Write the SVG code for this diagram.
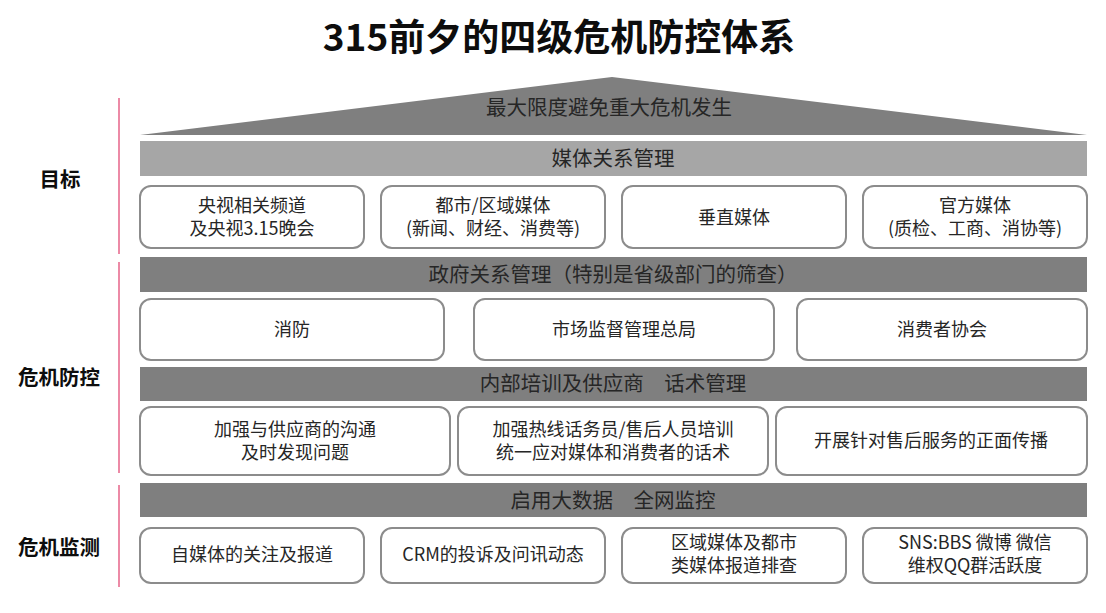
<svg xmlns="http://www.w3.org/2000/svg" width="1106" height="613" viewBox="0 0 1106 613">
<style>
text{font-family:"Microsoft YaHei","Noto Sans CJK SC","Noto Sans",sans-serif;text-anchor:middle;fill:#262626}
.title{font-size:37px;font-weight:bold;fill:#0d0d0d}
.side{font-size:20.5px;font-weight:bold;fill:#0d0d0d}
.bar{font-size:20.5px}
.bt{font-size:18px}
.box{fill:#fff;stroke:#8c8c8c;stroke-width:2}
.dark{fill:#7f7f7f}
.light{fill:#a6a6a6}
.pink{stroke:#ec8aa6;stroke-width:2}
</style>
<rect width="1106" height="613" fill="#fff"/>
<text class="title" x="559" y="51">315前夕的四级危机防控体系</text>

<g id="labels">
<line class="pink" x1="119" y1="98" x2="119" y2="254"/>
<line class="pink" x1="119" y1="262" x2="119" y2="473"/>
<line class="pink" x1="119" y1="485" x2="119" y2="587"/>
<text class="side" x="60" y="187">目标</text>
<text class="side" x="59" y="385">危机防控</text>
<text class="side" x="59" y="555">危机监测</text>
</g>

<g id="goal">
<polygon class="dark" points="140,135 612,77 1087,135"/>
<text class="bar" x="609" y="115">最大限度避免重大危机发生</text>
</g>

<g id="bar-media">
<rect class="light" x="140" y="141" width="947" height="35"/>
<text class="bar" x="613" y="166">媒体关系管理</text>
</g>
<g id="m1"><rect class="box" x="140" y="186" width="224" height="62" rx="11"/>
<text class="bt" x="252" y="211.5">央视相关频道</text><text class="bt" x="252" y="235">及央视3.15晚会</text></g>
<g id="m2"><rect class="box" x="381" y="186" width="224" height="62" rx="11"/>
<text class="bt" x="493" y="211.5">都市/区域媒体</text><text class="bt" x="493" y="235">(新闻、财经、消费等)</text></g>
<g id="m3"><rect class="box" x="622" y="186" width="224" height="62" rx="11"/>
<text class="bt" x="734" y="224">垂直媒体</text></g>
<g id="m4"><rect class="box" x="863" y="186" width="224" height="62" rx="11"/>
<text class="bt" x="975" y="211.5">官方媒体</text><text class="bt" x="975" y="235">(质检、工商、消协等)</text></g>

<g id="bar-gov">
<rect class="dark" x="140" y="257" width="947" height="35"/>
<text class="bar" x="613" y="282">政府关系管理（特别是省级部门的筛查）</text>
</g>
<g id="g1"><rect class="box" x="140" y="299" width="304" height="61" rx="11"/>
<text class="bt" x="292" y="336">消防</text></g>
<g id="g2"><rect class="box" x="474" y="299" width="300" height="61" rx="11"/>
<text class="bt" x="624" y="336">市场监督管理总局</text></g>
<g id="g3"><rect class="box" x="797" y="299" width="290" height="61" rx="11"/>
<text class="bt" x="942" y="336">消费者协会</text></g>

<g id="bar-train">
<rect class="dark" x="140" y="367" width="947" height="34"/>
<text class="bar" x="613" y="391" xml:space="preserve">内部培训及供应商　话术管理</text>
</g>
<g id="t1"><rect class="box" x="140" y="407" width="310" height="68" rx="11"/>
<text class="bt" x="295" y="435.5">加强与供应商的沟通</text><text class="bt" x="295" y="459">及时发现问题</text></g>
<g id="t2"><rect class="box" x="458" y="407" width="310" height="68" rx="11"/>
<text class="bt" x="613" y="435.5">加强热线话务员/售后人员培训</text><text class="bt" x="613" y="459">统一应对媒体和消费者的话术</text></g>
<g id="t3"><rect class="box" x="776" y="407" width="311" height="68" rx="11"/>
<text class="bt" x="931" y="447">开展针对售后服务的正面传播</text></g>

<g id="bar-monitor">
<rect class="dark" x="140" y="483" width="947" height="34"/>
<text class="bar" x="613" y="508" xml:space="preserve">启用大数据　全网监控</text>
</g>
<g id="w1"><rect class="box" x="140" y="528" width="224" height="55" rx="11"/>
<text class="bt" x="252" y="561">自媒体的关注及报道</text></g>
<g id="w2"><rect class="box" x="381" y="528" width="224" height="55" rx="11"/>
<text class="bt" x="493" y="561">CRM的投诉及问讯动态</text></g>
<g id="w3"><rect class="box" x="622" y="528" width="224" height="55" rx="11"/>
<text class="bt" x="734" y="548.5">区域媒体及都市</text><text class="bt" x="734" y="572">类媒体报道排查</text></g>
<g id="w4"><rect class="box" x="863" y="528" width="224" height="55" rx="11"/>
<text class="bt" x="975" y="548.5">SNS:BBS 微博 微信</text><text class="bt" x="975" y="572">维权QQ群活跃度</text></g>

<g id="connectors"></g>
</svg>
